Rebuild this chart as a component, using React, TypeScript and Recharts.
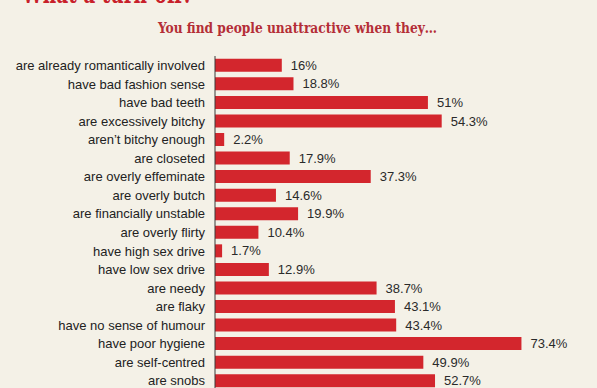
import React from 'react';
import { BarChart, Bar, XAxis, YAxis, LabelList } from 'recharts';

const categories = [
  'are already romantically involved',
  'have bad fashion sense',
  'have bad teeth',
  'are excessively bitchy',
  'aren\u2019t bitchy enough',
  'are closeted',
  'are overly effeminate',
  'are overly butch',
  'are financially unstable',
  'are overly flirty',
  'have high sex drive',
  'have low sex drive',
  'are needy',
  'are flaky',
  'have no sense of humour',
  'have poor hygiene',
  'are self-centred',
  'are snobs',
];
const values = [16, 18.8, 51, 54.3, 2.2, 17.9, 37.3, 14.6, 19.9, 10.4, 1.7, 12.9, 38.7, 43.1, 43.4, 73.4, 49.9, 52.7];

const title = 'What a turn-off?';
const subtitle = 'You find people unattractive when they\u2026';

const data = categories.map((c, i) => ({ name: c, value: values[i] }));

const BG = '#f4f1e7';
const RED = '#d3262d';
const FONT = 'Liberation Sans, Arial, sans-serif';

const CategoryTick = (props: any) => {
  const { x, y, payload } = props;
  return (
    <text x={x - 8} y={y} dy="0.36em" textAnchor="end" fill="#222" fontSize={13} fontFamily={FONT}>
      {payload.value}
    </text>
  );
};

export default function App() {
  return (
    <div style={{ position: 'fixed', left: 0, top: 0, width: 597, height: 388, overflow: 'hidden', background: BG }}>
      <BarChart
        width={597}
        height={390}
        data={data}
        layout="vertical"
        margin={{ top: 56, right: 48, bottom: 0, left: 0 }}
        barCategoryGap="15%"
      >
        <XAxis type="number" domain={[0, 80]} hide />
        <YAxis
          type="category"
          dataKey="name"
          width={215}
          interval={0}
          tickLine={false}
          tickSize={0}
          axisLine={{ stroke: '#3a3a3a', strokeWidth: 1 }}
          tick={<CategoryTick />}
        />
        <Bar dataKey="value" fill={RED} isAnimationActive={false}>
          <LabelList
            dataKey="value"
            position="right"
            offset={9}
            formatter={(v: number) => `${v}%`}
            style={{ fill: '#2a2a2a', fontSize: 13, fontFamily: FONT }}
          />
        </Bar>
      </BarChart>
      <svg width={597} height={60} style={{ position: 'absolute', left: 0, top: 0 }}>
        <text x={22} y={3} fontSize={30} fontWeight="bold" fill="#c8202a" fontFamily="DejaVu Serif, serif" textLength={171} lengthAdjust="spacingAndGlyphs">
          {title}
        </text>
        <text x={158} y={33} fontSize={15.5} fontWeight="bold" fill="#b42e37" fontFamily="DejaVu Serif Condensed, DejaVu Serif, serif" textLength={279} lengthAdjust="spacingAndGlyphs">
          {subtitle}
        </text>
      </svg>
    </div>
  );
}
